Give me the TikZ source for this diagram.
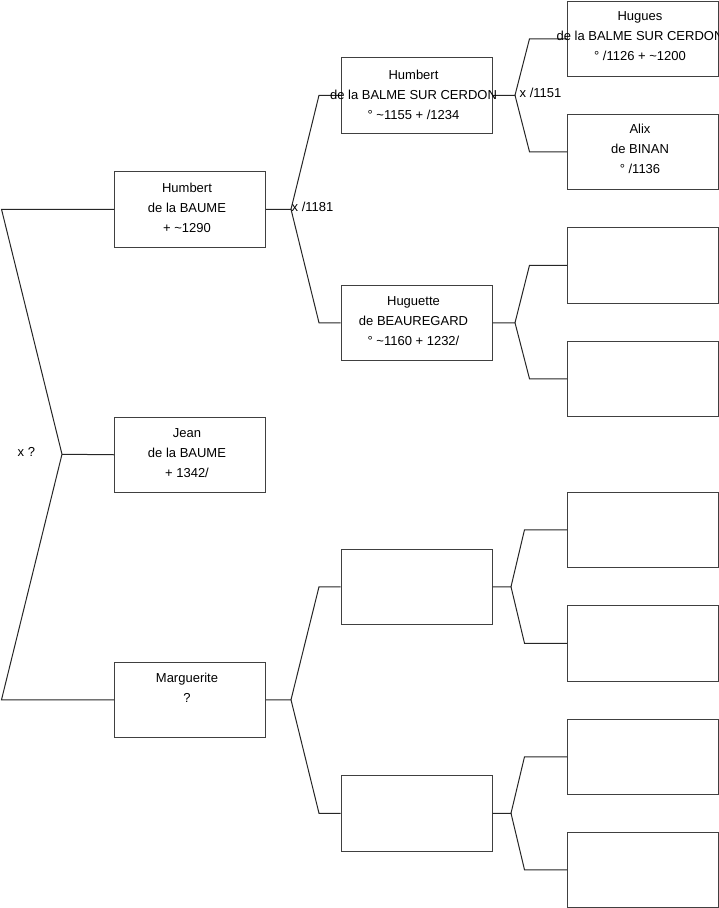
\documentclass[tikz,border=0pt]{standalone}
\usepackage{fontspec}
\setmainfont{Liberation Sans}
\begin{document}
\begin{tikzpicture}[x=1pt,y=-1pt,
  box/.style={draw=black!75, line width=1pt, minimum width=151pt, minimum height=75.5pt, inner sep=0pt, anchor=north west},
  conn/.style={draw=black!85, line width=1pt},
  txt/.style={anchor=base, align=center, font=\fontsize{13}{20}\selectfont, inner sep=0pt},
  lbl/.style={anchor=base west, font=\fontsize{13}{16}\selectfont, inner sep=0pt}]
\useasboundingbox (0,0) rectangle (719,908);
% level 1
\node[box] (a1) at (114,171) {};
\node[box] (a2) at (114,416.5) {};
\node[box] (a3) at (114,661.5) {};
% level 2
\node[box] (b1) at (340.5,57) {};
\node[box] (b2) at (340.5,284.5) {};
\node[box] (b3) at (340.5,548.5) {};
\node[box] (b4) at (340.5,775) {};
% level 3
\node[box] (c1) at (567,0.5) {};
\node[box] (c2) at (567,113.5) {};
\node[box] (c3) at (567,227) {};
\node[box] (c4) at (567,340.5) {};
\node[box] (c5) at (567,491.5) {};
\node[box] (c6) at (567,605) {};
\node[box] (c7) at (567,718.5) {};
\node[box] (c8) at (567,831.5) {};
% fork coordinates
\coordinate (p0) at (62,454.25);
\coordinate (t0) at (1.5,0);
\coordinate (v1) at (291,0);
\coordinate (j1) at (319,0);
\coordinate (v2) at (515,0);
\coordinate (j2) at (529.5,0);
\coordinate (v3) at (511,0);
\coordinate (j3) at (524.5,0);
% left fork
\draw[conn] (a1.west) -- (t0 |- a1.west) -- (p0) -- (t0 |- a3.west) -- (a3.west);
\draw[conn] (p0) -- (a2.west);
% a1 fork
\draw[conn] (a1.east) -- (v1 |- a1.east) -- (j1 |- b1.west) -- (b1.west);
\draw[conn] (v1 |- a1.east) -- (j1 |- b2.west) -- (b2.west);
% a3 fork
\draw[conn] (a3.east) -- (v1 |- a3.east) -- (j1 |- b3.west) -- (b3.west);
\draw[conn] (v1 |- a3.east) -- (j1 |- b4.west) -- (b4.west);
% b1 fork
\draw[conn] (b1.east) -- (v2 |- b1.east) -- (j2 |- c1.west) -- (c1.west);
\draw[conn] (v2 |- b1.east) -- (j2 |- c2.west) -- (c2.west);
% b2 fork
\draw[conn] (b2.east) -- (v2 |- b2.east) -- (j2 |- c3.west) -- (c3.west);
\draw[conn] (v2 |- b2.east) -- (j2 |- c4.west) -- (c4.west);
% b3 fork
\draw[conn] (b3.east) -- (v3 |- b3.east) -- (j3 |- c5.west) -- (c5.west);
\draw[conn] (v3 |- b3.east) -- (j3 |- c6.west) -- (c6.west);
% b4 fork
\draw[conn] (b4.east) -- (v3 |- b4.east) -- (j3 |- c7.west) -- (c7.west);
\draw[conn] (v3 |- b4.east) -- (j3 |- c8.west) -- (c8.west);
% texts (base anchor = last line baseline)
\node[txt] (ta1) at ([xshift=-3pt,yshift=-61pt]a1.north) {Humbert\\de la BAUME\\+ \textasciitilde1290};
\node[txt] (ta2) at ([xshift=-3pt,yshift=-61pt]a2.north) {Jean\\de la BAUME\\+ 1342/};
\node[txt] (ta3) at ([xshift=-3pt,yshift=-41pt]a3.north) {Marguerite\\?};
\node[txt] (tb1) at ([xshift=-3pt,yshift=-62pt]b1.north) {Humbert\\de la BALME SUR CERDON\\° \textasciitilde1155 + /1234};
\node[txt] (tb2) at ([xshift=-3pt,yshift=-61pt]b2.north) {Huguette\\de BEAUREGARD\\° \textasciitilde1160 + 1232/};
\node[txt] (tc1) at ([xshift=-3pt,yshift=-60pt]c1.north) {Hugues\\de la BALME SUR CERDON\\° /1126 + \textasciitilde1200};
\node[txt] (tc2) at ([xshift=-3pt,yshift=-60pt]c2.north) {Alix\\de BINAN\\° /1136};
% labels
\node[lbl] (l0) at (17.5,456.5) {x ?};
\node[lbl] (l1) at (291.5,211) {x /1181};
\node[lbl] (l2) at (519.5,97.5) {x /1151};
\end{tikzpicture}
\end{document}
